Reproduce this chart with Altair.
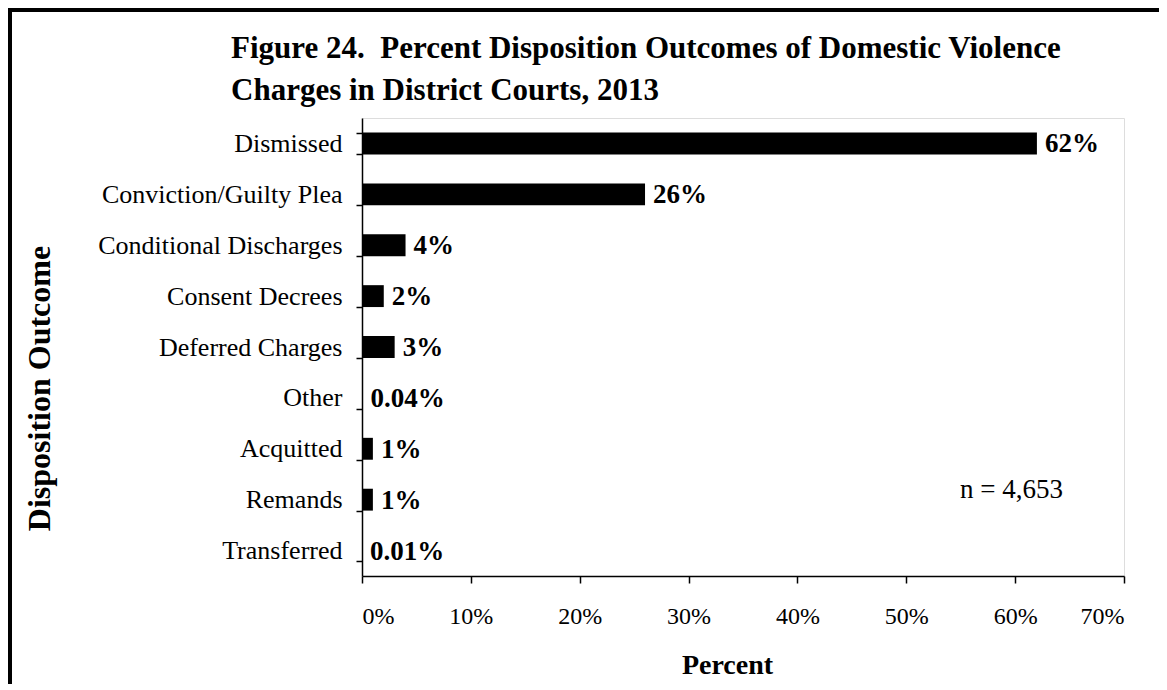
import altair as alt
import pandas as pd

categories = ["Dismissed", "Conviction/Guilty Plea", "Conditional Discharges",
              "Consent Decrees", "Deferred Charges", "Other", "Acquitted",
              "Remands", "Transferred"]
values = [62, 26, 4, 2, 3, 0.04, 1, 1, 0.01]
labels = ["62%", "26%", "4%", "2%", "3%", "0.04%", "1%", "1%", "0.01%"]
x_ticks = [0, 10, 20, 30, 40, 50, 60, 70]
title_lines = ["Figure 24.\u00a0\u00a0Percent Disposition Outcomes of Domestic Violence",
               "Charges in District Courts, 2013"]
note_text = ["n = 4,653"]

FONT = "Liberation Serif"

df = pd.DataFrame({"category": categories, "value": values, "label": labels})

y_enc = alt.Y(
    "category:N", sort=categories,
    scale=alt.Scale(paddingInner=0.57, paddingOuter=0.285),
    axis=alt.Axis(
        title="Disposition Outcome", tickBand="extent", tickSize=6,
        labelPadding=14, labelFont=FONT, labelFontSize=26, labelColor="black",
        labelLimit=400, domainColor="black", tickColor="black",
        domainWidth=1.5, tickWidth=1.5,
        titleFont=FONT, titleFontSize=32, titleFontWeight="bold",
        titleColor="black", titleAngle=270, titleX=-313, titleY=270,
        titleAlign="center", titleBaseline="alphabetic", grid=False,
    ),
)
x_enc = alt.X(
    "value:Q",
    scale=alt.Scale(domain=[0, 70], nice=False),
    axis=alt.Axis(
        values=x_ticks, labelExpr="datum.value + '%'", tickSize=7,
        labelPadding=21, labelFont=FONT, labelFontSize=24, labelColor="black",
        domainColor="black", tickColor="black", domainWidth=1.5, tickWidth=1.5,
        title="Percent", titleFont=FONT, titleFontSize=28,
        titleFontWeight="bold", titleColor="black", titleX=365, titleY=97,
        titleAlign="center", titleBaseline="alphabetic", grid=False,
    ),
)

base = alt.Chart(df)
bars = base.mark_bar(color="black").encode(x=x_enc, y=y_enc)
texts = base.mark_text(
    align="left", baseline="middle", dx=8, dy=1, font=FONT, fontSize=27,
    fontWeight="bold", color="black"
).encode(x="value:Q", y=alt.Y("category:N", sort=categories), text="label:N")

note = alt.Chart(pd.DataFrame({"t": note_text})).mark_text(
    align="left", baseline="alphabetic", font=FONT, fontSize=27, color="black"
).encode(text="t:N", x=alt.value(598), y=alt.value(380))

left_border = alt.Chart(pd.DataFrame({"t": note_text})).mark_rule(
    color="black", strokeWidth=4, clip=False
).encode(x=alt.value(-352), y=alt.value(-110), y2=alt.value(700))
top_border = alt.Chart(pd.DataFrame({"t": note_text})).mark_rule(
    color="black", strokeWidth=4, clip=False
).encode(x=alt.value(-354), x2=alt.value(900), y=alt.value(-108))

chart = alt.layer(bars, texts, note, left_border, top_border).properties(
    width=762, height=458,
    padding={"left": 354, "top": 110, "right": 35, "bottom": 108},
    autosize=alt.AutoSizeParams(type="none"),
    title=alt.TitleParams(
        text=title_lines, anchor="start", frame="group", dx=-131, dy=132,
        offset=0, baseline="bottom", font=FONT, fontSize=31,
        fontWeight="bold", lineHeight=42, color="black",
    ),
).configure_view(stroke=None).configure(background="white")

chart.save("out.html", embed_options={"renderer": "svg", "actions": False})
